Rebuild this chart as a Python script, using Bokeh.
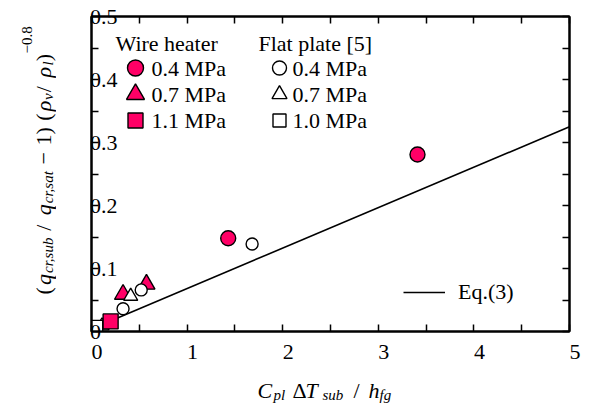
import math
from bokeh.plotting import figure
from bokeh.layouts import row, column
from bokeh.models import (Range1d, LinearAxis, FixedTicker, Legend, LegendItem,
                          CustomLabelingPolicy)
from bokeh.core.properties import value
from bokeh.embed import file_html
from bokeh.resources import INLINE

# ---------------- data ----------------
wire_04_x = [1.43, 3.41]
wire_04_y = [0.148, 0.281]
wire_07_x = [0.33, 0.575]
wire_07_y = [0.059, 0.075]
wire_11_x = [0.20]
wire_11_y = [0.016]

flat_04_x = [0.33, 0.52, 1.68]
flat_04_y = [0.036, 0.066, 0.139]
flat_07_x = [0.11, 0.41]
flat_07_y = [0.009, 0.056]
flat_10_x = [0.06]
flat_10_y = [0.009]

eq3_x = [0.0, 5.0]
eq3_y = [0.004, 0.325]

x_ticks = [0, 1, 2, 3, 4, 5]
x_tick_labels = ["0", "1", "2", "3", "4", "5"]
y_ticks = [0.0, 0.1, 0.2, 0.3, 0.4, 0.5]
y_tick_labels = ["0", "0.1", "0.2", "0.3", "0.4", "0.5"]
x_minor = [0.5, 1.5, 2.5, 3.5, 4.5]
y_minor = [0.05, 0.15, 0.25, 0.35, 0.45]

wire_title = "Wire heater"
flat_title = "Flat plate [5]"
wire_labels = ["0.4 MPa", "0.7 MPa", "1.1 MPa"]
flat_labels = ["0.4 MPa", "0.7 MPa", "1.0 MPa"]
eq_label = "Eq.(3)"

PINK = "#ff0066"
FONT = "Liberation Serif"
TICK_FS = "22px"

# page layout:  [y-title strip 56x366 | main plot 534x366]  over  [x-title strip 590x39]
YSW, TOPH = 56, 366
FL, FR, FT, FB = 91, 569, 16, 334      # plot frame in page pixels
XMAX, YMAX = 5.0, 0.5


def dx(px):
    return (px - FL) / (FR - FL) * XMAX


def dy(py):
    return (FB - py) / (FB - FT) * YMAX


p = figure(width=590 - YSW, height=TOPH, output_backend="svg", toolbar_location=None,
           x_range=Range1d(0, XMAX), y_range=Range1d(0, YMAX),
           min_border_left=FL - YSW, min_border_right=590 - FR, min_border_top=FT,
           min_border_bottom=TOPH - FB,
           x_axis_location=None, y_axis_location=None)
p.grid.visible = False
p.outline_line_color = "black"
p.outline_line_width = 2
p.background_fill_color = "white"
p.border_fill_color = "white"

hide_all = CustomLabelingPolicy(code="""
    for (const i of indices) { indices.unset(i) }
    return indices
""")


def style_axis(ax, ticks, minor, labels=None, show=True):
    ax.ticker = FixedTicker(ticks=ticks, minor_ticks=minor)
    ax.axis_line_width = 2
    ax.axis_line_color = "black"
    ax.major_tick_in = 7
    ax.major_tick_out = 0
    ax.minor_tick_in = 7
    ax.minor_tick_out = 0
    ax.major_tick_line_width = 1.5
    ax.minor_tick_line_width = 1.5
    ax.major_label_text_font = FONT
    ax.major_label_text_color = "black"
    if show:
        ax.major_label_text_font_size = TICK_FS
        ax.major_label_overrides = dict(zip(ticks, labels))
    else:
        ax.major_label_text_font_size = "1px"
        ax.major_label_standoff = 0
        ax.major_label_policy = hide_all


# the reference prints x tick labels a little right of their ticks (en-space lead)
xb = LinearAxis()
style_axis(xb, x_ticks, x_minor, ["\u2002" + t for t in x_tick_labels])
xb.major_label_standoff = 7
p.add_layout(xb, "below")

# the reference prints y tick labels left-aligned just left of the axis line;
# pad "0" to the width of "0.x" so that right-aligned labels share a left edge
yl = LinearAxis()
style_axis(yl, y_ticks, y_minor,
           [t if len(t) > 1 else t + "\u2008\u2007" for t in y_tick_labels])
yl.major_label_standoff = -26
p.add_layout(yl, "left")

xt = LinearAxis()
style_axis(xt, x_ticks, x_minor, show=False)
p.add_layout(xt, "above")

yr = LinearAxis()
style_axis(yr, y_ticks, y_minor, show=False)
p.add_layout(yr, "right")

# ---------------- data glyphs ----------------
eq = p.line(eq3_x, eq3_y, line_color="black", line_width=1.6)

MK = dict(line_color="black", line_width=1.4)
p.scatter(wire_04_x, wire_04_y, marker="circle", size=15, fill_color=PINK, **MK)
p.scatter(wire_07_x, wire_07_y, marker="triangle", size=17, fill_color=PINK, **MK)
p.scatter(flat_04_x, flat_04_y, marker="circle", size=12, fill_color="white", **MK)
p.scatter(flat_07_x, flat_07_y, marker="triangle", size=14, fill_color="white", **MK)
p.scatter(flat_10_x, flat_10_y, marker="square", size=11, fill_color="white", **MK)
p.scatter(wire_11_x, wire_11_y, marker="square", size=15, fill_color=PINK, **MK)

# ---------------- legend (two titled columns) ----------------
rows_py = [68, 94.5, 121]
wire_mk_px, wire_tx_px = 135, 151
flat_mk_px, flat_tx_px = 279, 292
shapes = ["circle", "triangle", "square"]

p.scatter([dx(wire_mk_px)] * 3, [dy(v) for v in rows_py], marker=shapes,
          size=[16, 18, 15], fill_color=PINK, **MK)
p.scatter([dx(flat_mk_px)] * 3, [dy(v) for v in rows_py], marker=shapes,
          size=[14, 15, 13], fill_color="white", **MK)

TXT = dict(text_font=value(FONT), text_font_size=value(TICK_FS), text_color="black",
           text_align=value("left"), text_baseline=value("middle"))
p.text([dx(115), dx(258)], [dy(43), dy(43)], text=[wire_title, flat_title], **TXT)
p.text([dx(wire_tx_px)] * 3, [dy(v) for v in rows_py], text=wire_labels, **TXT)
p.text([dx(flat_tx_px)] * 3, [dy(v) for v in rows_py], text=flat_labels, **TXT)

leg_e = Legend(items=[LegendItem(label=eq_label, renderers=[eq])], location=(312, 26))
leg_e.label_text_font = FONT
leg_e.label_text_font_size = TICK_FS
leg_e.label_text_color = "black"
leg_e.glyph_width = 42
leg_e.glyph_height = 20
leg_e.label_standoff = 13
leg_e.padding = 0
leg_e.margin = 0
leg_e.border_line_color = None
leg_e.background_fill_alpha = 0
p.add_layout(leg_e)

# ---------------- axis titles (strips whose ranges are page pixels) ----------------
def strip(w, h, x0, x1, y0, y1):
    f = figure(width=w, height=h, output_backend="svg", toolbar_location=None,
               x_range=Range1d(x0, x1), y_range=Range1d(y1, y0),
               min_border=0, x_axis_location=None, y_axis_location=None)
    f.grid.visible = False
    f.outline_line_color = None
    f.background_fill_color = "white"
    f.border_fill_color = "white"
    return f


MAIN, SUB, SUP = "22px", "15px", "15px"


def pieces(f, items, angle=0.0):
    for txt, x, y, size, italic in items:
        f.text([x], [y], text=[txt], text_font=value(FONT), text_font_size=value(size),
               text_font_style=value("italic" if italic else "normal"), text_color="black",
               text_align=value("left"), text_baseline=value("alphabetic"), angle=angle)


# x title: C_pl ΔT_sub / h_fg
xf = strip(590, 405 - TOPH, 0, 590, TOPH, 405)
pieces(xf, [
    ("C", 257, 390, MAIN, True),
    ("pl", 273, 394, SUB, True),
    ("\u0394", 292, 390, MAIN, False),
    ("T", 305, 390, MAIN, True),
    ("sub", 322, 394, SUB, True),
    ("/", 353, 390, MAIN, False),
    ("h", 368, 390, MAIN, True),
    ("fg", 379, 394, SUB, True),
])

# y title (rotated): (q_cr,sub / q_cr,sat − 1) (ρ_v/ρ_l)^−0.8
yf = strip(YSW, TOPH, 0, YSW, 0, TOPH)
BX, SX, PX = 43, 47, 26
pieces(yf, [
    ("(", BX, 323, MAIN, False),
    ("q", BX, 312, MAIN, True),
    ("cr,sub", SX, 298, SUB, True),
    ("/", BX, 249, MAIN, False),
    ("q", BX, 231, MAIN, True),
    ("cr,sat", SX, 217, SUB, True),
    ("\u2212", BX, 172, MAIN, False),
    ("1)", BX, 150, MAIN, False),
    ("(", BX, 121, MAIN, False),
    ("\u03c1", BX, 110, MAIN, True),
    ("v", SX, 97, SUB, True),
    ("/", BX, 88, MAIN, False),
    ("\u03c1", BX, 71, MAIN, True),
    ("l", SX, 57, SUB, True),
    (")", BX, 52, MAIN, False),
    ("\u22120.8", PX, 43, SUP, False),
], angle=math.pi / 2)

layout = column(row(yf, p), xf)
open("out.html", "w").write(file_html(layout, INLINE))
